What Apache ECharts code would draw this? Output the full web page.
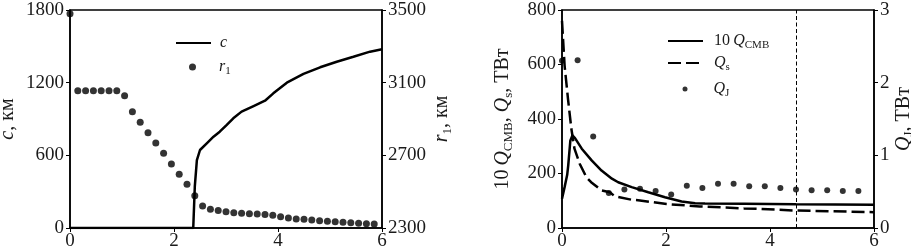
<!DOCTYPE html>
<html><head><meta charset="utf-8">
<script src="https://cdn.jsdelivr.net/npm/echarts@6/dist/echarts.min.js"></script>
<style>html,body{margin:0;padding:0;background:#fff}#c{width:911px;height:251px}</style>
</head><body><div id="c"></div>
<script>
// ---- Left panel data ----
const cX   = [0, 2.37, 2.40, 2.44, 2.50, 2.63, 2.76, 2.88, 3.01, 3.14, 3.30, 3.53, 3.75, 3.91, 4.17, 4.49, 4.81, 5.13, 5.45, 5.77, 6.0];
const cVal = [0, 0, 341, 561, 644, 699, 754, 795, 850, 906, 961, 1007, 1051, 1112, 1200, 1272, 1327, 1373, 1414, 1456, 1476];
const r1X  = [0, 0.15, 0.3, 0.45, 0.6, 0.75, 0.9, 1.05, 1.2, 1.35, 1.5, 1.65, 1.8, 1.95, 2.1, 2.25, 2.4, 2.55, 2.7, 2.85,
              3.0, 3.15, 3.3, 3.45, 3.6, 3.75, 3.9, 4.05, 4.2, 4.35, 4.5, 4.65, 4.8, 4.95, 5.1, 5.25, 5.4, 5.55, 5.7, 5.85];
const r1Val = [3480, 3056, 3056, 3056, 3056, 3056, 3056, 3028, 2940, 2882, 2825, 2768, 2711, 2652, 2596, 2541, 2478, 2421, 2403, 2397,
               2390, 2384, 2381, 2379, 2377, 2375, 2370, 2362, 2355, 2349, 2348, 2344, 2340, 2337, 2335, 2331, 2329, 2326, 2324, 2322];
const leftXTicks = [0, 2, 4, 6];
const cTicks  = [0, 600, 1200, 1800];
const r1Ticks = [2300, 2700, 3100, 3500];

// ---- Right panel data ----
const qcmbX   = [0, 0.05, 0.10, 0.12, 0.16, 0.20, 0.25, 0.38, 0.57, 0.76, 0.96, 1.08, 1.34, 1.66, 1.98, 2.30, 2.56, 2.75, 3.5, 4.5, 6.0];
const qcmbVal = [107, 150, 195, 230, 320, 340, 330, 291, 248, 211, 181, 168, 150, 131, 113, 97, 91, 90, 89, 87, 85];
const qsX   = [0, 0.02, 0.05, 0.115, 0.18, 0.24, 0.34, 0.47, 0.56, 0.76, 0.92, 1.01, 1.33, 1.5, 2.01, 2.65, 3.5, 3.81, 4.51, 6.0];
const qsVal = [760, 694, 596, 474, 364, 291, 236, 186, 168, 138, 131, 117, 104, 101, 88, 79, 72, 70, 64, 58];
const qjX   = [0, 0.3, 0.6, 0.9, 1.2, 1.5, 1.8, 2.1, 2.4, 2.7, 3.0, 3.3, 3.6, 3.9, 4.2, 4.5, 4.8, 5.1, 5.4, 5.7];
const qjVal = [2.30, 2.31, 1.26, 0.48, 0.53, 0.54, 0.51, 0.46, 0.58, 0.55, 0.61, 0.61, 0.575, 0.575, 0.55, 0.53, 0.52, 0.52, 0.51, 0.51];
const markX = 4.5;
const rightXTicks = [0, 2, 4, 6];
const qTicks  = [0, 200, 400, 600, 800];
const qjTicks = [0, 1, 2, 3];

const FF = '"Liberation Serif", "DejaVu Serif", serif';
const TXT = '#1a1a1a';
const zip = (xs, ys) => xs.map((x, i) => [x, ys[i]]);
const plain = v => String(v);

const nameRich = {
  n:   {fontFamily: FF, fontSize: 20, color: TXT, lineHeight: 24},
  i:   {fontFamily: FF, fontSize: 20, color: TXT, fontStyle: 'italic', lineHeight: 24},
  sub: {fontFamily: FF, fontSize: 13, color: TXT, lineHeight: 14, verticalAlign: 'bottom'}
};
const legRich = {
  sp:  {width: 6, lineHeight: 20},
  n:   {fontFamily: FF, fontSize: 16, color: TXT, lineHeight: 20},
  i:   {fontFamily: FF, fontSize: 16, color: TXT, fontStyle: 'italic', lineHeight: 20},
  sub: {fontFamily: FF, fontSize: 11, color: TXT, lineHeight: 12, verticalAlign: 'bottom'}
};
const spR = w => Object.assign({}, legRich, {sp: {width: w, lineHeight: 20}});
const hideSym = {color: 'rgba(0,0,0,0)', borderColor: 'rgba(0,0,0,0)', borderWidth: 0};

function xAx(grid, ticks) {
  return {
    type: 'value', gridIndex: grid, min: ticks[0], max: ticks[ticks.length - 1], interval: ticks[1] - ticks[0],
    axisLine: {show: true, onZero: false, lineStyle: {color: '#000', width: 1.5}},
    axisTick: {show: true, inside: false, length: 4, lineStyle: {color: '#000', width: 1}},
    axisLabel: {fontFamily: FF, fontSize: 19, color: TXT, margin: 4, formatter: plain},
    splitLine: {show: false}
  };
}
function yAx(grid, ticks, pos, name, gap) {
  return {
    type: 'value', gridIndex: grid, position: pos, min: ticks[0], max: ticks[ticks.length - 1],
    axisLine: {show: true, onZero: false, lineStyle: {color: '#000', width: 1.5}},
    axisTick: {show: true, inside: false, length: 4, customValues: ticks, lineStyle: {color: '#000', width: 1}},
    axisLabel: {fontFamily: FF, fontSize: 19, color: TXT, margin: 6, customValues: ticks, formatter: plain},
    splitLine: {show: false},
    name: name, nameLocation: 'middle', nameRotate: 90, nameGap: gap,
    nameTextStyle: {rich: nameRich}
  };
}

const chart = echarts.init(document.getElementById('c'), null, {renderer: 'canvas'});
chart.setOption({
  animation: false,
  backgroundColor: '#fff',
  grid: [
    {left: 70, right: 529, top: 10, bottom: 23, show: true, borderColor: '#000', borderWidth: 1.5,
     containLabel: false, outerBoundsMode: 'none'},
    {left: 562, right: 37, top: 10, bottom: 23, show: true, borderColor: '#000', borderWidth: 1.5,
     containLabel: false, outerBoundsMode: 'none'}
  ],
  xAxis: [xAx(0, leftXTicks), xAx(1, rightXTicks)],
  yAxis: [
    yAx(0, cTicks, 'left', '{i|c}{n|, км}', 50),
    yAx(0, r1Ticks, 'right', '{i|r}{sub|1}{n|, км}', 48),
    yAx(1, qTicks, 'left', '{n|10\u2009}{i|Q}{sub|CMB}{n|, }{i|Q}{sub|s}{n|, ТВт}', 47),
    yAx(1, qjTicks, 'right', '{i|Q}{sub|J}{n|, ТВт}', 11)
  ],
  legend: [
    {data: ['c'], left: 175, top: 35, itemWidth: 35, itemHeight: 14, padding: 0, itemStyle: hideSym,
     formatter: () => '{sp|}{i|c}', textStyle: {rich: spR(4)}},
    {data: ['r1'], left: 189, top: 59, itemWidth: 7, itemHeight: 7, padding: 0,
     formatter: () => '{sp|}{i|r}{sub|1}', textStyle: {rich: spR(18)}},
    {data: ['qcmb'], left: 667, top: 33, itemWidth: 35, itemHeight: 14, padding: 0, itemStyle: hideSym,
     formatter: () => '{sp|}{n|10\u2009}{i|Q}{sub|CMB}', textStyle: {rich: spR(6)}},
    {data: ['qs'], left: 667, top: 55, itemWidth: 35, itemHeight: 14, padding: 0, itemStyle: hideSym,
     formatter: () => '{sp|}{i|Q}{sub|s}', textStyle: {rich: spR(6)}},
    {data: ['qj'], left: 682.5, top: 81, itemWidth: 5, itemHeight: 5, padding: 0,
     formatter: () => '{sp|}{i|Q}{sub|J}', textStyle: {rich: spR(21)}}
  ],
  series: [
    {name: 'r1', type: 'scatter', xAxisIndex: 0, yAxisIndex: 1, data: zip(r1X, r1Val),
     symbol: 'circle', symbolSize: 7, itemStyle: {color: '#000'}, clip: true},
    {name: 'c', type: 'line', xAxisIndex: 0, yAxisIndex: 0, data: zip(cX, cVal),
     symbol: 'none', lineStyle: {color: '#000', width: 2.5}, itemStyle: {color: '#000'}},
    {name: 'qj', type: 'scatter', xAxisIndex: 1, yAxisIndex: 3, data: zip(qjX, qjVal),
     symbol: 'circle', symbolSize: 6, itemStyle: {color: '#000'}, clip: true},
    {name: 'qcmb', type: 'line', xAxisIndex: 1, yAxisIndex: 2, data: zip(qcmbX, qcmbVal),
     symbol: 'none', lineStyle: {color: '#000', width: 2.5}, itemStyle: {color: '#000'},
     markLine: {silent: true, symbol: ['none', 'none'], label: {show: false},
       lineStyle: {color: '#000', width: 1, type: [4, 2.5]}, data: [{xAxis: markX}]}},
    {name: 'qs', type: 'line', xAxisIndex: 1, yAxisIndex: 2, data: zip(qsX, qsVal),
     symbol: 'none', lineStyle: {color: '#000', width: 2.5, type: [13, 5]}, itemStyle: {color: '#000'}}
  ]
});
</script></body></html>
